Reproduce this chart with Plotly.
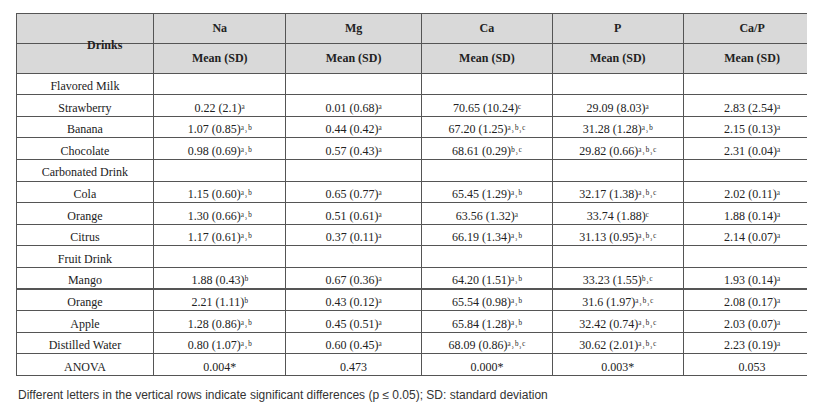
import plotly.graph_objects as go

drinks = ["Flavored Milk", "Strawberry", "Banana", "Chocolate", "Carbonated Drink", "Cola", "Orange",
          "Citrus", "Fruit Drink", "Mango", "Orange", "Apple", "Distilled Water", "ANOVA"]
minerals = ["Na", "Mg", "Ca", "P", "Ca/P"]

A, AB, B, BC, C, ABC = "ᵃ", "ᵃ˒ᵇ", "ᵇ", "ᵇ˒ᶜ", "ᶜ", "ᵃ˒ᵇ˒ᶜ"
na = ["", "0.22 (2.1)" + A, "1.07 (0.85)" + AB, "0.98 (0.69)" + AB, "",
      "1.15 (0.60)" + AB, "1.30 (0.66)" + AB, "1.17 (0.61)" + AB, "",
      "1.88 (0.43)" + B, "2.21 (1.11)" + B, "1.28 (0.86)" + AB,
      "0.80 (1.07)" + AB, "0.004*"]
mg = ["", "0.01 (0.68)" + A, "0.44 (0.42)" + A, "0.57 (0.43)" + A, "",
      "0.65 (0.77)" + A, "0.51 (0.61)" + A, "0.37 (0.11)" + A, "",
      "0.67 (0.36)" + A, "0.43 (0.12)" + A, "0.45 (0.51)" + A,
      "0.60 (0.45)" + A, "0.473"]
ca = ["", "70.65 (10.24)" + C, "67.20 (1.25)" + ABC, "68.61 (0.29)" + BC, "",
      "65.45 (1.29)" + AB, "63.56 (1.32)" + A, "66.19 (1.34)" + AB, "",
      "64.20 (1.51)" + AB, "65.54 (0.98)" + AB, "65.84 (1.28)" + AB,
      "68.09 (0.86)" + ABC, "0.000*"]
p = ["", "29.09 (8.03)" + A, "31.28 (1.28)" + AB, "29.82 (0.66)" + ABC, "",
     "32.17 (1.38)" + ABC, "33.74 (1.88)" + C, "31.13 (0.95)" + ABC, "",
     "33.23 (1.55)" + BC, "31.6 (1.97)" + ABC, "32.42 (0.74)" + ABC,
     "30.62 (2.01)" + ABC, "0.003*"]
ca_p = ["", "2.83 (2.54)" + A, "2.15 (0.13)" + A, "2.31 (0.04)" + A, "",
        "2.02 (0.11)" + A, "1.88 (0.14)" + A, "2.14 (0.07)" + A, "",
        "1.93 (0.14)" + A, "2.08 (0.17)" + A, "2.03 (0.07)" + A,
        "2.23 (0.19)" + A, "0.053"]
footnote = "Different letters in the vertical rows indicate significant differences (p ≤ 0.05); SD: standard deviation"

W, H = 815, 418
TOP = 5
HDR = 23
ROW = 21.6
gray = "#d9d9d9"
n = len(drinks) + 1
font = dict(family="Liberation Serif", size=12, color="#222")

cols = [[""] + drinks] + [["<b>Mean (SD)</b>"] + c for c in (na, mg, ca, p, ca_p)]
fills = [[gray] + ["white"] * (n - 1) for _ in cols]

fig = go.Figure(go.Table(
    domain=dict(x=[8 / W, 813 / W], y=[0, 1 - TOP / H]),
    columnwidth=[138, 132, 136, 131, 131, 138],
    header=dict(values=[""] + ["<b>%s</b>" % m for m in minerals], height=HDR,
                fill_color=gray, line_color="#555", align="center", font=font),
    cells=dict(values=cols, height=ROW, fill_color=fills, line_color="#555",
               align="center", font=font),
))

# merged "Drinks" header cell
mid = TOP + HDR
fig.add_shape(type="rect", xref="paper", yref="paper", x0=9 / W, x1=145 / W,
              y0=1 - (mid + 2) / H, y1=1 - (mid - 2) / H, fillcolor=gray, line_width=0,
              layer="above")
fig.add_annotation(text="<b>Drinks</b>", xref="paper", yref="paper", x=77 / W, y=1 - mid / H,
                   showarrow=False, font=font)
fig.add_annotation(text=footnote, xref="paper", yref="paper", x=8 / W, y=1 - 396 / H,
                   xanchor="left", showarrow=False,
                   font=dict(family="Liberation Sans", size=12, color="#333"))

fig.update_layout(width=W, height=H, margin=dict(l=0, r=0, t=0, b=0),
                  paper_bgcolor="white")
fig.write_html("out.html")
